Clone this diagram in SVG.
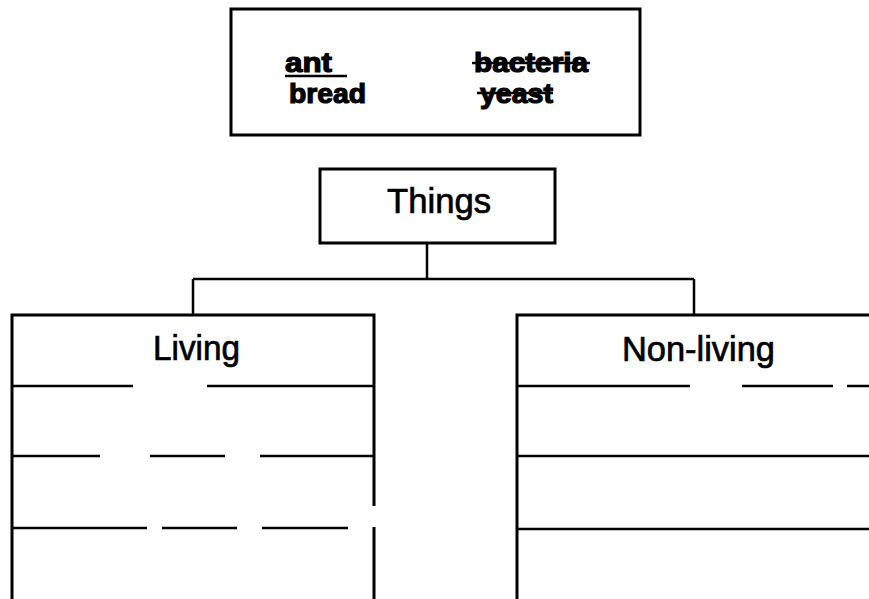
<svg xmlns="http://www.w3.org/2000/svg" width="869" height="599" viewBox="0 0 869 599">
<style>
.box{fill:#fff;stroke:#000;stroke-width:3}
.ln{stroke:#000;stroke-width:2.5;fill:none}
.conn{stroke:#000;stroke-width:2.5;fill:none}
.word{font-family:"Liberation Sans",Arial,sans-serif;font-weight:bold;font-size:27px;fill:#000;stroke:#000;stroke-width:1.2}
.lbl{font-family:"Liberation Sans",Arial,sans-serif;font-size:35px;fill:#000;stroke:#000;stroke-width:0.7}
</style>
<rect width="869" height="599" fill="#fff"/>
<g id="word-bank">
<rect class="box" x="231" y="9" width="409" height="126"/>
<text class="word" x="285" y="72" textLength="47" lengthAdjust="spacingAndGlyphs">ant</text>
<line class="ln" x1="285" y1="76" x2="347" y2="76"/>
<text class="word" x="289" y="103" textLength="77" lengthAdjust="spacingAndGlyphs">bread</text>
<text class="word" x="474" y="72" textLength="114" lengthAdjust="spacingAndGlyphs">bacteria</text>
<line class="ln" x1="472" y1="63" x2="590" y2="63"/>
<text class="word" x="480" y="103" textLength="73" lengthAdjust="spacingAndGlyphs">yeast</text>
<line class="ln" x1="477" y1="93" x2="553" y2="93"/>
</g>
<g id="things">
<rect class="box" x="320" y="169" width="235" height="74"/>
<text class="lbl" x="387" y="213" textLength="104" lengthAdjust="spacingAndGlyphs">Things</text>
</g>
<g id="connectors">
<line class="conn" x1="427" y1="243" x2="427" y2="279"/>
<line class="conn" x1="193" y1="279" x2="694" y2="279"/>
<line class="conn" x1="193" y1="279" x2="193" y2="315"/>
<line class="conn" x1="694" y1="279" x2="694" y2="315"/>
</g>
<g id="living">
<rect class="box" x="12" y="315" width="362" height="300"/>
<text class="lbl" x="153" y="360" textLength="87" lengthAdjust="spacingAndGlyphs">Living</text>
<path class="ln" d="M12 386H133M207 386H374M12 456H100M150 456H225M260 456H374M12 528H147M162 528H237M262 528H348"/>
<line x1="374" y1="506" x2="374" y2="527" stroke="#fff" stroke-width="5"/>
</g>
<g id="non-living">
<rect class="box" x="517" y="315" width="370" height="300"/>
<text class="lbl" x="622" y="361" textLength="153" lengthAdjust="spacingAndGlyphs">Non-living</text>
<path class="ln" d="M517 386H690M742 386H833M847 386H869M517 456H869M517 529H869"/>
</g>
</svg>
